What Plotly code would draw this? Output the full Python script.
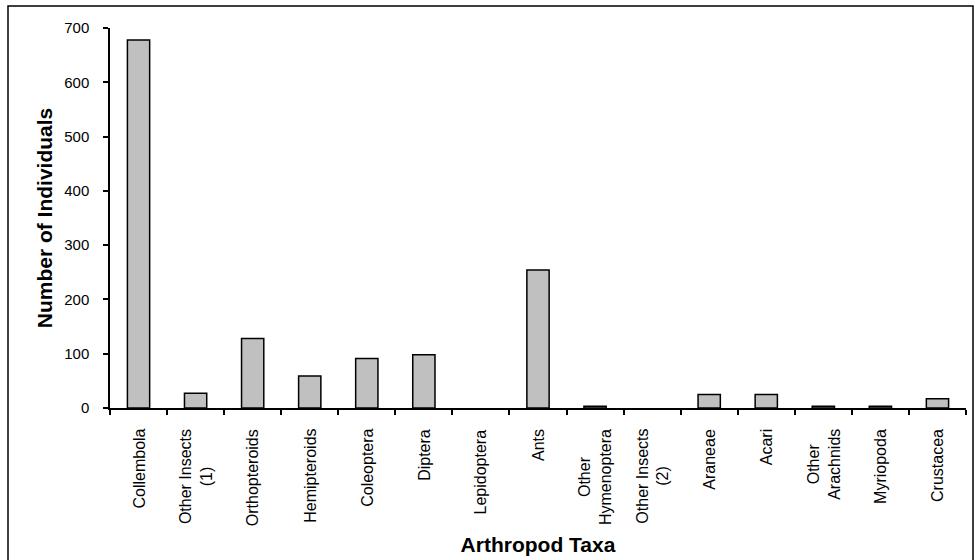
import plotly.graph_objects as go

categories = ["Collembola", "Other Insects (1)", "Orthopteroids", "Hemipteroids",
              "Coleoptera", "Diptera", "Lepidoptera", "Ants", "Other Hymenoptera",
              "Other Insects (2)", "Araneae", "Acari", "Other Arachnids",
              "Myriopoda", "Crustacea"]
tick_labels = ["Collembola", "Other Insects<br>(1)", "Orthopteroids", "Hemipteroids",
               "Coleoptera", "Diptera", "Lepidoptera", "Ants", "Other<br>Hymenoptera",
               "Other Insects<br>(2)", "Araneae", "Acari", "Other<br>Arachnids",
               "Myriopoda", "Crustacea"]
counts = [678, 27, 128, 59, 91, 98, 0, 254, 3, 0, 25, 25, 3, 3, 17]
y_ticks = [0, 100, 200, 300, 400, 500, 600, 700]

W, H = 975, 560
L, R, T, B = 110, 9, 28, 152
pw, ph = W - L - R, H - T - B
FONT = "Liberation Sans, Arial, sans-serif"
n = len(categories)

fig = go.Figure()
fig.add_trace(go.Bar(
    x=categories, y=counts,
    marker=dict(color="#C0C0C0",
                line=dict(color="black", width=[1.5 if v > 0 else 0 for v in counts])),
    width=0.39, showlegend=False, hoverinfo="x+y",
))

fig.update_layout(
    width=W, height=H,
    margin=dict(l=L, r=R, t=T, b=B, autoexpand=False),
    paper_bgcolor="white", plot_bgcolor="white",
    font=dict(family=FONT, size=15, color="black"),
    xaxis=dict(
        type="category", range=[-0.5, n - 0.5],
        showticklabels=False, showgrid=False, zeroline=False,
        showline=True, linecolor="black", linewidth=1.5,
        ticks="outside", tickson="boundaries", ticklen=5, tickwidth=1.5, tickcolor="black",
        title=dict(text="<b>Arthropod Taxa</b>", font=dict(size=21), standoff=129),
    ),
    xaxis2=dict(
        overlaying="x", anchor="y", range=[-0.5, n - 0.5],
        tickmode="array", tickvals=[i - 0.5 for i in range(n + 1)],
        showticklabels=False, showgrid=False, zeroline=False, showline=False,
        ticks="inside", ticklen=5, tickwidth=1.5, tickcolor="black",
    ),
    yaxis=dict(
        range=[0, 700], tickvals=y_ticks,
        showgrid=False, zeroline=False,
        showline=True, linecolor="black", linewidth=1.5,
        ticks="outside", ticklen=5, tickwidth=1.5, tickcolor="black",
        ticklabelstandoff=11,
        title=dict(text="<b>Number of Individuals</b>", font=dict(size=21), standoff=6),
    ),
    yaxis2=dict(
        overlaying="y", anchor="x", side="left", range=[0, 700], tickvals=y_ticks,
        showticklabels=False, showgrid=False, zeroline=False, showline=False,
        ticks="inside", ticklen=5, tickwidth=1.5, tickcolor="black",
    ),
)

for cat, lab in zip(categories, tick_labels):
    fig.add_annotation(
        x=cat, xref="x", y=0, yref="paper", yshift=-19,
        text=lab, textangle=-90, showarrow=False,
        xanchor="center", yanchor="top", align="center",
        font=dict(size=16),
    )

fig.add_shape(
    type="rect", xref="paper", yref="paper",
    x0=(8 - L) / pw, x1=(973 - L) / pw,
    y0=-(563 - T - ph) / ph, y1=(T + ph - 6) / ph,
    line=dict(color="black", width=1.5), fillcolor="rgba(0,0,0,0)", layer="below",
)

fig.write_html("out.html", config={"displayModeBar": False},
               post_script="document.body.style.margin='0';")
